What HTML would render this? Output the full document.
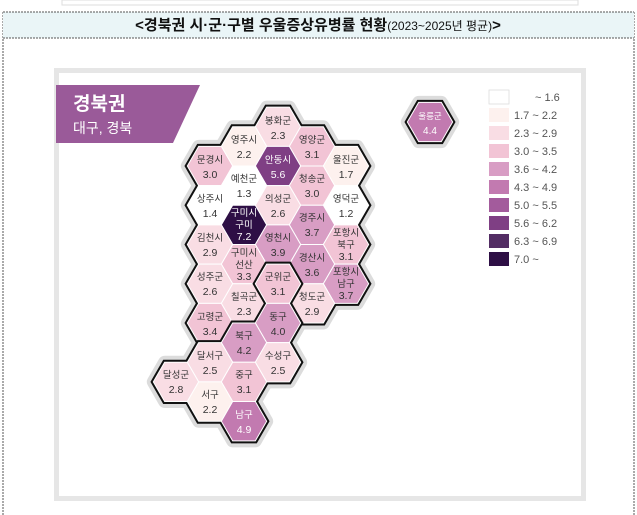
<!DOCTYPE html>
<html><head><meta charset="utf-8"><style>
html,body{margin:0;padding:0;background:#fff;}
svg{display:block;font-family:"Liberation Sans","Noto Sans CJK KR",sans-serif;}
</style></head><body>
<svg width="637" height="515" viewBox="0 0 637 515" xmlns="http://www.w3.org/2000/svg">
<defs><polygon id="h" points="22.667,0 11.333,19.63 -11.333,19.63 -22.667,0 -11.333,-19.63 11.333,-19.63"/></defs>
<rect x="62" y="0" width="516" height="5" fill="none" stroke="#ddd" stroke-width="1"/>
<line x1="3" y1="12" x2="3" y2="515" stroke="#555" stroke-dasharray="2,1" stroke-width="1"/>
<line x1="634" y1="12" x2="634" y2="515" stroke="#555" stroke-dasharray="2,1" stroke-width="1"/>
<rect x="3" y="12" width="631" height="26" fill="#eaf5f7"/>
<line x1="3" y1="12" x2="634" y2="12" stroke="#555" stroke-dasharray="2,1"/>
<line x1="3" y1="38" x2="634" y2="38" stroke="#555" stroke-dasharray="2,1"/>
<text x="318" y="30" text-anchor="middle" font-size="15" font-weight="bold" fill="#111">&lt;경북권 시·군·구별 우울증상유병률 현황<tspan font-size="12" font-weight="normal">(2023~2025년 평균)</tspan>&gt;</text>
<rect x="56.5" y="70.5" width="527" height="428" fill="#fff" stroke="#e6e6e6" stroke-width="5"/>
<polygon points="56,85 200,85 173,143 56,143" fill="#9a5a99"/>
<text x="73" y="110" font-size="19" font-weight="bold" fill="#fff">경북권</text>
<text x="73" y="133" font-size="14" fill="#fff">대구, 경북</text>

<g fill="#dcdcdc" stroke="#dcdcdc" stroke-width="13" stroke-linejoin="round">
<use href="#h" x="278" y="126.74"/><use href="#h" x="244" y="146.37"/><use href="#h" x="312" y="146.37"/><use href="#h" x="210" y="166"/><use href="#h" x="278" y="166"/><use href="#h" x="346" y="166"/><use href="#h" x="244" y="185.63"/><use href="#h" x="312" y="185.63"/><use href="#h" x="210" y="205.26"/><use href="#h" x="278" y="205.26"/><use href="#h" x="346" y="205.26"/><use href="#h" x="244" y="224.89"/><use href="#h" x="312" y="224.89"/><use href="#h" x="210" y="244.52"/><use href="#h" x="278" y="244.52"/><use href="#h" x="346" y="244.52"/><use href="#h" x="244" y="264.15"/><use href="#h" x="312" y="264.15"/><use href="#h" x="210" y="283.78"/><use href="#h" x="346" y="283.78"/><use href="#h" x="244" y="303.41"/><use href="#h" x="312" y="303.41"/><use href="#h" x="210" y="323.04"/>
<use href="#h" x="278" y="283.78"/><use href="#h" x="278" y="323.04"/><use href="#h" x="244" y="342.67"/><use href="#h" x="278" y="362.3"/><use href="#h" x="210" y="362.3"/><use href="#h" x="244" y="381.93"/><use href="#h" x="176" y="381.93"/><use href="#h" x="210" y="401.56"/><use href="#h" x="244" y="421.19"/>
<use href="#h" x="430" y="122"/>
</g>
<g fill="#111" stroke="#111" stroke-width="5">
<use href="#h" x="278" y="126.74"/><use href="#h" x="244" y="146.37"/><use href="#h" x="312" y="146.37"/><use href="#h" x="210" y="166"/><use href="#h" x="278" y="166"/><use href="#h" x="346" y="166"/><use href="#h" x="244" y="185.63"/><use href="#h" x="312" y="185.63"/><use href="#h" x="210" y="205.26"/><use href="#h" x="278" y="205.26"/><use href="#h" x="346" y="205.26"/><use href="#h" x="244" y="224.89"/><use href="#h" x="312" y="224.89"/><use href="#h" x="210" y="244.52"/><use href="#h" x="278" y="244.52"/><use href="#h" x="346" y="244.52"/><use href="#h" x="244" y="264.15"/><use href="#h" x="312" y="264.15"/><use href="#h" x="210" y="283.78"/><use href="#h" x="346" y="283.78"/><use href="#h" x="244" y="303.41"/><use href="#h" x="312" y="303.41"/><use href="#h" x="210" y="323.04"/>
<use href="#h" x="430" y="122"/>
</g>
<g stroke="#fff" stroke-width="1">
<use href="#h" x="278" y="126.74" fill="#f9dde4"/><use href="#h" x="244" y="146.37" fill="#fdf1ee"/><use href="#h" x="312" y="146.37" fill="#f2c4d5"/><use href="#h" x="210" y="166" fill="#f2c4d5"/><use href="#h" x="278" y="166" fill="#7f3f84"/><use href="#h" x="346" y="166" fill="#fdf1ee"/><use href="#h" x="244" y="185.63" fill="#ffffff"/><use href="#h" x="312" y="185.63" fill="#f2c4d5"/><use href="#h" x="210" y="205.26" fill="#ffffff"/><use href="#h" x="278" y="205.26" fill="#f9dde4"/><use href="#h" x="346" y="205.26" fill="#ffffff"/><use href="#h" x="244" y="224.89" fill="#2e0f45"/><use href="#h" x="312" y="224.89" fill="#d89dc4"/><use href="#h" x="210" y="244.52" fill="#f9dde4"/><use href="#h" x="278" y="244.52" fill="#d89dc4"/><use href="#h" x="346" y="244.52" fill="#f2c4d5"/><use href="#h" x="244" y="264.15" fill="#f2c4d5"/><use href="#h" x="312" y="264.15" fill="#d89dc4"/><use href="#h" x="210" y="283.78" fill="#f9dde4"/><use href="#h" x="346" y="283.78" fill="#d89dc4"/><use href="#h" x="244" y="303.41" fill="#f9dde4"/><use href="#h" x="312" y="303.41" fill="#f9dde4"/><use href="#h" x="210" y="323.04" fill="#f2c4d5"/>
<use href="#h" x="430" y="122" fill="#c27ab0"/>
</g>
<g fill="#111" stroke="#111" stroke-width="5">
<use href="#h" x="278" y="283.78"/><use href="#h" x="278" y="323.04"/><use href="#h" x="244" y="342.67"/><use href="#h" x="278" y="362.3"/><use href="#h" x="210" y="362.3"/><use href="#h" x="244" y="381.93"/><use href="#h" x="176" y="381.93"/><use href="#h" x="210" y="401.56"/><use href="#h" x="244" y="421.19"/>
</g>
<g stroke="#fff" stroke-width="1">
<use href="#h" x="278" y="283.78" fill="#f2c4d5"/><use href="#h" x="278" y="323.04" fill="#d89dc4"/><use href="#h" x="244" y="342.67" fill="#d89dc4"/><use href="#h" x="278" y="362.3" fill="#f9dde4"/><use href="#h" x="210" y="362.3" fill="#f9dde4"/><use href="#h" x="244" y="381.93" fill="#f2c4d5"/><use href="#h" x="176" y="381.93" fill="#f9dde4"/><use href="#h" x="210" y="401.56" fill="#fdf1ee"/><use href="#h" x="244" y="421.19" fill="#c27ab0"/>
</g>

<g font-size="9.5" fill="#333" text-anchor="middle">
<text x="278" y="124">봉화군</text><text x="278" y="139" font-size="10.5">2.3</text>
<text x="244" y="143">영주시</text><text x="244" y="158" font-size="10.5">2.2</text>
<text x="312" y="143">영양군</text><text x="312" y="158" font-size="10.5">3.1</text>
<text x="210" y="163">문경시</text><text x="210" y="178" font-size="10.5">3.0</text>
<text x="278" y="163" fill="#fff">안동시</text><text x="278" y="178" font-size="10.5" fill="#fff">5.6</text>
<text x="346" y="163">울진군</text><text x="346" y="178" font-size="10.5">1.7</text>
<text x="244" y="182">예천군</text><text x="244" y="197" font-size="10.5">1.3</text>
<text x="312" y="182">청송군</text><text x="312" y="197" font-size="10.5">3.0</text>
<text x="210" y="202">상주시</text><text x="210" y="217" font-size="10.5">1.4</text>
<text x="278" y="202">의성군</text><text x="278" y="217" font-size="10.5">2.6</text>
<text x="346" y="202">영덕군</text><text x="346" y="217" font-size="10.5">1.2</text>
<text x="244" y="216" fill="#fff">구미시</text><text x="244" y="228" fill="#fff">구미</text><text x="244" y="240" font-size="10.5" fill="#fff">7.2</text>
<text x="312" y="221">경주시</text><text x="312" y="236" font-size="10.5">3.7</text>
<text x="210" y="241">김천시</text><text x="210" y="256" font-size="10.5">2.9</text>
<text x="278" y="241">영천시</text><text x="278" y="256" font-size="10.5">3.9</text>
<text x="346" y="236">포항시</text><text x="346" y="248">북구</text><text x="346" y="260" font-size="10.5">3.1</text>
<text x="244" y="256">구미시</text><text x="244" y="268">선산</text><text x="244" y="280" font-size="10.5">3.3</text>
<text x="312" y="261">경산시</text><text x="312" y="276" font-size="10.5">3.6</text>
<text x="210" y="280">성주군</text><text x="210" y="295" font-size="10.5">2.6</text>
<text x="278" y="280">군위군</text><text x="278" y="295" font-size="10.5">3.1</text>
<text x="346" y="275">포항시</text><text x="346" y="287">남구</text><text x="346" y="299" font-size="10.5">3.7</text>
<text x="244" y="300">칠곡군</text><text x="244" y="315" font-size="10.5">2.3</text>
<text x="312" y="300">청도군</text><text x="312" y="315" font-size="10.5">2.9</text>
<text x="210" y="320">고령군</text><text x="210" y="335" font-size="10.5">3.4</text>
<text x="278" y="320">동구</text><text x="278" y="335" font-size="10.5">4.0</text>
<text x="244" y="339">북구</text><text x="244" y="354" font-size="10.5">4.2</text>
<text x="278" y="359">수성구</text><text x="278" y="374" font-size="10.5">2.5</text>
<text x="210" y="359">달서구</text><text x="210" y="374" font-size="10.5">2.5</text>
<text x="244" y="378">중구</text><text x="244" y="393" font-size="10.5">3.1</text>
<text x="176" y="378">달성군</text><text x="176" y="393" font-size="10.5">2.8</text>
<text x="210" y="398">서구</text><text x="210" y="413" font-size="10.5">2.2</text>
<text x="244" y="418" fill="#fff">남구</text><text x="244" y="433" font-size="10.5" fill="#fff">4.9</text>
<text x="430" y="119" fill="#fff" font-size="8.5">울릉군</text><text x="430" y="134" font-size="10" fill="#fff">4.4</text>
</g>

<g stroke="#ddd" stroke-width="0.8">
<rect x="489" y="90" width="20" height="14" fill="#ffffff"/>
<rect x="489" y="108" width="20" height="14" fill="#fdf1ee" stroke="none"/>
<rect x="489" y="126" width="20" height="14" fill="#f9dde4" stroke="none"/>
<rect x="489" y="144" width="20" height="14" fill="#f2c4d5" stroke="none"/>
<rect x="489" y="162" width="20" height="14" fill="#d89dc4" stroke="none"/>
<rect x="489" y="180" width="20" height="14" fill="#c27ab0" stroke="none"/>
<rect x="489" y="198" width="20" height="14" fill="#a35b9c" stroke="none"/>
<rect x="489" y="216" width="20" height="14" fill="#7f3f84" stroke="none"/>
<rect x="489" y="234" width="20" height="14" fill="#532d64" stroke="none"/>
<rect x="489" y="252" width="20" height="14" fill="#2e0f45" stroke="none"/>
</g>
<g font-size="11" fill="#555">
<text x="535" y="101">~ 1.6</text>
<text x="514" y="119">1.7  ~ 2.2</text>
<text x="514" y="137">2.3  ~ 2.9</text>
<text x="514" y="155">3.0  ~ 3.5</text>
<text x="514" y="173">3.6  ~ 4.2</text>
<text x="514" y="191">4.3  ~ 4.9</text>
<text x="514" y="209">5.0  ~ 5.5</text>
<text x="514" y="227">5.6  ~ 6.2</text>
<text x="514" y="245">6.3  ~ 6.9</text>
<text x="514" y="263">7.0  ~</text>
</g>
</svg>
</body></html>
